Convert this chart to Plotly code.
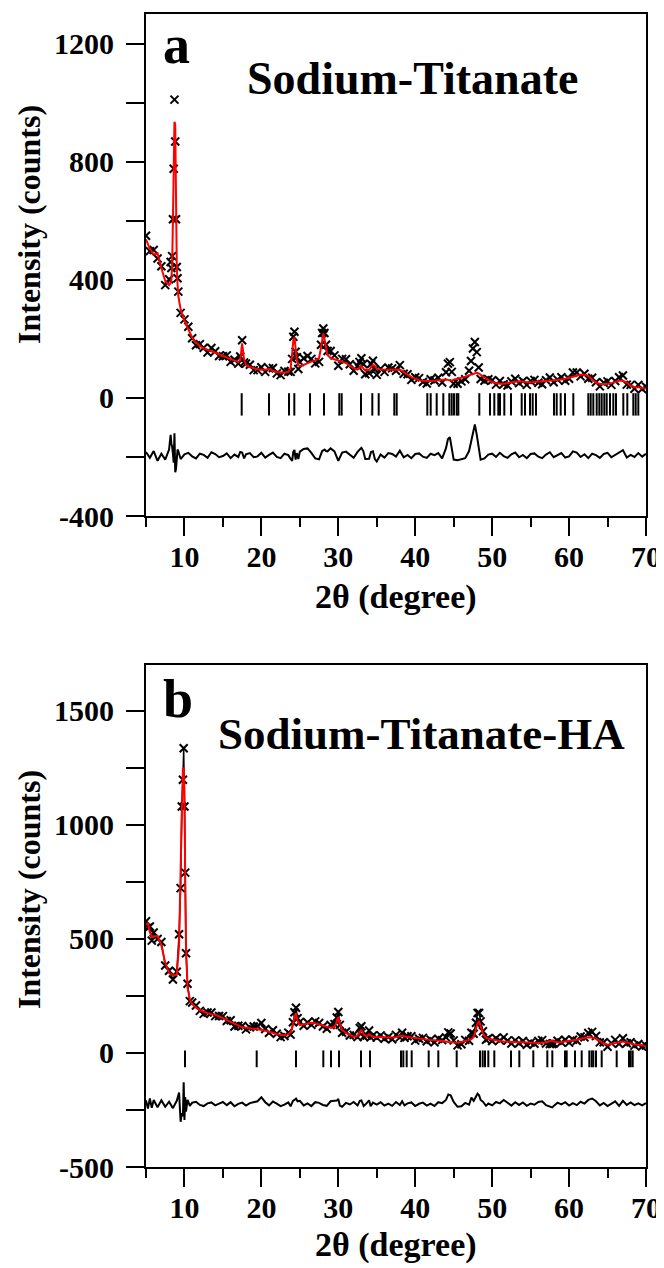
import plotly.graph_objects as go

# ---------------- Panel a : Sodium-Titanate ----------------
tt_a = [5.0, 5.5, 6.0, 6.5, 7.0, 7.5, 8.0, 8.2, 8.3, 8.4,
        8.5, 8.6, 8.7, 8.8, 8.9, 9.0, 9.1, 9.2, 9.5, 10.0,
        10.5, 11.0, 11.5, 12.0, 12.5, 13.0, 13.5, 14.0, 14.5, 15.0,
        15.5, 16.0, 16.5, 17.0, 17.25, 17.5, 17.75, 18.0, 18.5, 19.0,
        19.5, 20.0, 20.5, 21.0, 21.5, 22.0, 22.5, 23.0, 23.5, 23.8,
        24.0, 24.15, 24.3, 24.45, 24.6, 24.8, 25.0, 25.5, 26.0, 26.5,
        27.0, 27.5, 27.75, 27.9, 28.05, 28.2, 28.4, 28.6, 29.0, 29.5,
        30.0, 30.5, 31.0, 31.5, 32.0, 32.5, 32.75, 33.0, 33.25, 33.5,
        34.0, 34.25, 34.5, 34.75, 35.0, 35.5, 36.0, 36.5, 37.0, 37.5,
        38.0, 38.5, 39.0, 39.5, 40.0, 40.5, 41.0, 41.5, 42.0, 42.5,
        43.0, 43.5, 44.0, 44.25, 44.5, 44.75, 45.0, 45.5, 46.0, 46.5,
        47.0, 47.25, 47.5, 47.75, 48.0, 48.25, 48.5, 49.0, 49.5, 50.0,
        50.5, 51.0, 51.5, 52.0, 52.5, 53.0, 53.5, 54.0, 54.5, 55.0,
        55.5, 56.0, 56.5, 57.0, 57.5, 58.0, 58.5, 59.0, 59.5, 60.0,
        60.5, 61.0, 61.5, 62.0, 62.5, 63.0, 63.5, 64.0, 64.5, 65.0,
        65.5, 66.0, 66.5, 67.0, 67.5, 68.0, 68.5, 69.0, 69.5, 70.0]
calc_a = [537, 505, 486, 490, 440, 396, 382, 390, 400, 450,
          600, 800, 935, 925, 650, 450, 385, 345, 300, 262,
          232, 205, 188, 176, 168, 162, 158, 153, 148, 143,
          137, 131, 126, 121, 128, 185, 130, 112, 104, 100,
          97, 95, 95, 98, 91, 88, 86, 85, 88, 100,
          150, 195, 205, 170, 130, 110, 108, 112, 118, 123,
          127, 135, 170, 205, 218, 200, 165, 145, 135, 130,
          127, 122, 118, 110, 100, 96, 104, 108, 100, 92,
          95, 103, 112, 108, 98, 96, 95, 95, 95, 96,
          95, 88, 78, 70, 65, 60, 58, 57, 57, 58,
          60, 62, 62, 61, 59, 58, 62, 64, 68, 72,
          77, 80, 82, 84, 85, 83, 78, 68, 60, 54,
          50, 48, 48, 50, 52, 55, 56, 55, 53, 52,
          54, 55, 55, 57, 58, 59, 60, 62, 65, 68,
          72, 76, 78, 78, 74, 62, 52, 47, 46, 47,
          50, 54, 58, 58, 52, 42, 36, 36, 34, 32]
resid_a = [12, -8, 15, -18, 6, -14, 20, 70, 40, 30,
           5, -24, 75, -57, -45, -7, 20, 15, -12, 4,
           9, -3, -10, 6, 2, -8, 11, 5, -6, -2,
           7, -9, 3, -5, 12, 10, -10, 4, 8, -6,
           -3, 9, -7, 2, 10, -5, -9, 6, 1, -12,
           -18, 12, 19, -14, 8, -12, 13, 22, 24, 9,
           -10, -13, 10, 15, 17, 20, 15, 14, 24, 14,
           -18, 10, 13, 4, -8, 12, 18, 26, 15, -12,
           -11, 12, 14, -12, -20, 3, -7, 8, 5, -4,
           16, -6, 2, -9, 5, 7, -4, -8, 6, 1,
           8, -10, 25, 55, 62, 30, -14, -16, -12, -9,
           15, 45, 85, 105, 70, 20, -14, -10, 3, 6,
           -5, 9, -2, -8, 4, 10, -6, 2, -9, 5,
           7, -4, -9, 3, 11, -6, 2, 8, -7, -3,
           14, 10, -5, 4, -9, 6, 1, -8, 5, 9,
           -6, 3, 12, 18, -7, 2, -5, 8, -4, 6]
bragg_a = [17.44, 20.99, 23.59, 24.28, 26.32, 28.14, 30.13, 30.44, 32.95, 34.42,
           35.25, 37.28, 37.59, 41.57, 42.01, 42.79, 43.65, 44.43, 44.74, 45.04,
           45.39, 45.6, 48.33, 49.72, 50.28, 50.8, 51.02, 51.58, 52.45, 53.84,
           54.27, 54.92, 55.27, 55.7, 58.04, 58.39, 58.91, 59.47, 60.55, 62.5,
           62.81, 63.15, 63.59, 63.93, 64.24, 64.58, 64.89, 65.32, 65.75, 66.1,
           67.05, 67.57, 68.35, 68.66, 69.0]
DIFF_OFFSET_A = -195
BRAGG_LEVEL_A = -22

# ---------------- Panel b : Sodium-Titanate-HA ----------------
tt_b = [5.0, 5.25, 5.5, 5.75, 6.0, 6.5, 7.0, 7.5, 8.0, 8.5,
        9.0, 9.3, 9.5, 9.65, 9.8, 9.9, 10.0, 10.1, 10.2, 10.4,
        10.7, 11.0, 11.5, 12.0, 12.5, 13.0, 13.5, 14.0, 14.5, 15.0,
        15.5, 16.0, 16.5, 17.0, 17.5, 18.0, 18.5, 19.0, 19.5, 20.0,
        20.5, 21.0, 21.5, 22.0, 22.5, 23.0, 23.5, 23.8, 24.1, 24.3,
        24.5, 24.7, 25.0, 25.5, 26.0, 26.5, 27.0, 27.5, 28.0, 28.5,
        29.0, 29.5, 29.8, 30.0, 30.2, 30.5, 31.0, 31.5, 32.0, 32.5,
        32.8, 33.0, 33.3, 33.7, 34.0, 34.2, 34.5, 35.0, 35.5, 36.0,
        36.5, 37.0, 37.5, 38.0, 38.3, 38.6, 39.0, 39.5, 40.0, 40.5,
        41.0, 41.5, 42.0, 42.5, 43.0, 43.5, 44.0, 44.3, 44.6, 45.0,
        45.5, 46.0, 46.5, 47.0, 47.3, 47.6, 47.9, 48.1, 48.3, 48.5,
        48.8, 49.2, 49.5, 50.0, 50.5, 51.0, 51.5, 52.0, 52.5, 53.0,
        53.5, 54.0, 54.5, 55.0, 55.5, 56.0, 56.5, 57.0, 57.5, 57.8,
        58.0, 58.5, 59.0, 59.5, 60.0, 60.5, 61.0, 61.5, 62.0, 62.5,
        63.0, 63.5, 64.0, 64.5, 65.0, 65.5, 66.0, 66.5, 67.0, 67.5,
        68.0, 68.5, 69.0, 69.5, 70.0]
calc_b = [561, 569, 530, 508, 510, 513, 470, 395, 350, 340,
          342, 470, 800, 1120, 1250, 1240, 1150, 760, 470, 285,
          235, 215, 198, 188, 180, 174, 170, 167, 160, 152,
          145, 135, 126, 118, 112, 110, 108, 107, 106, 101,
          97, 94, 88, 82, 78, 77, 82, 90, 120, 160,
          174, 140, 122, 125, 130, 132, 130, 126, 120, 114,
          110, 112, 140, 157, 130, 100, 88, 78, 70, 75,
          95, 101, 80, 72, 82, 78, 70, 70, 69, 69,
          68, 68, 70, 72, 76, 72, 70, 66, 63, 61,
          60, 58, 56, 55, 54, 52, 50, 48, 47, 46,
          45, 48, 52, 56, 60, 70, 100, 130, 137, 120,
          85, 66, 62, 58, 55, 52, 50, 49, 48, 47,
          46, 45, 44, 43, 43, 43, 44, 46, 52, 54,
          50, 47, 48, 50, 52, 54, 58, 62, 66, 69,
          68, 62, 52, 42, 36, 40, 45, 48, 50, 46,
          40, 37, 36, 34, 28]
resid_b = [16, -20, 24, -16, 18, -14, 16, -12, 10, -18,
           14, 50, -78, -40, -53, 95, -70, 30, -33, 18,
           -8, 6, 10, -4, -9, 3, 7, -6, 2, 9,
           -5, 8, -10, 1, 6, -7, 4, 9, 12, 30,
           8, -6, 11, 2, -9, -3, 7, -10, 14, 18,
           24, 12, 14, -6, 3, -9, 8, 5, -4, -8,
           12, 14, 15, 22, -7, -12, 5, -2, 9, -6,
           14, 16, -9, 4, 16, -10, 6, -3, 8, -7,
           2, -8, 9, -4, 12, -6, 3, 7, -9, 1,
           6, -7, 2, -9, 8, 4, 18, 42, 38, 9,
           -12, -10, 5, -3, 28, 14, 32, 45, 38, 18,
           10, -8, 2, -6, 9, 3, 18, 5, -7, 8,
           -4, 7, -8, 2, -3, 9, 12, -5, -13, -15,
           -9, 6, -2, 8, -7, 4, -5, 10, 2, 18,
           24, 12, -6, 5, -9, 3, 12, -8, 14, -4,
           7, -5, 3, -6, 4]
bragg_b = [10.07, 19.39, 24.5, 28.05, 29.05, 30.09, 32.95, 34.12, 38.15, 38.45,
           38.89, 39.54, 41.75, 43.0, 45.39, 48.42, 48.77, 49.07, 49.5, 50.28,
           52.45, 53.53, 55.35, 57.17, 57.82, 59.47, 59.69, 60.77, 61.64, 62.63,
           62.94, 63.15, 63.5, 64.24, 66.19, 67.79, 68.01, 68.27]
DIFF_OFFSET_B = -224
BRAGG_LEVEL_B = -26

# derived series (observed = calculated + residual; difference curve is offset residual)
obs_a = [c + r for c, r in zip(calc_a, resid_a)]
diff_a = [r + DIFF_OFFSET_A for r in resid_a]
obs_b = [c + r for c, r in zip(calc_b, resid_b)]
diff_b = [r + DIFF_OFFSET_B for r in resid_b]

x_major = [10, 20, 30, 40, 50, 60, 70]
x_minor = [5, 15, 25, 35, 45, 55, 65]
y_ticks_a = [-400, -200, 0, 200, 400, 600, 800, 1000, 1200]
y_text_a = ["-400", "", "0", "", "400", "", "800", "", "1200"]
y_ticks_b = [-500, -250, 0, 250, 500, 750, 1000, 1250, 1500]
y_text_b = ["-500", "", "0", "", "500", "", "1000", "", "1500"]

FONT = "Liberation Serif, Times New Roman, DejaVu Serif, serif"

fig = go.Figure()

xmark = dict(symbol="x-thin", size=8, color="black", line=dict(width=2, color="black"))

# panel a traces
fig.add_trace(go.Scatter(x=tt_a, y=obs_a, mode="markers", marker=xmark,
                         xaxis="x", yaxis="y", showlegend=False))
fig.add_trace(go.Scatter(x=tt_a, y=calc_a, mode="lines", line=dict(color="red", width=2),
                         xaxis="x", yaxis="y", showlegend=False))
fig.add_trace(go.Scatter(x=bragg_a, y=[BRAGG_LEVEL_A] * len(bragg_a), mode="markers",
                         marker=dict(symbol="line-ns", size=16, color="black",
                                     line=dict(width=2, color="black")),
                         xaxis="x", yaxis="y", showlegend=False))
fig.add_trace(go.Scatter(x=tt_a, y=diff_a, mode="lines", line=dict(color="black", width=2),
                         xaxis="x", yaxis="y", showlegend=False))

# panel b traces
fig.add_trace(go.Scatter(x=tt_b, y=obs_b, mode="lines+markers", marker=xmark,
                         line=dict(color="black", width=1.5),
                         xaxis="x2", yaxis="y2", showlegend=False))
fig.add_trace(go.Scatter(x=tt_b, y=calc_b, mode="lines", line=dict(color="red", width=2),
                         xaxis="x2", yaxis="y2", showlegend=False))
fig.add_trace(go.Scatter(x=bragg_b, y=[BRAGG_LEVEL_B] * len(bragg_b), mode="markers",
                         marker=dict(symbol="line-ns", size=12, color="black",
                                     line=dict(width=2, color="black")),
                         xaxis="x2", yaxis="y2", showlegend=False))
fig.add_trace(go.Scatter(x=tt_b, y=diff_b, mode="lines", line=dict(color="black", width=2),
                         xaxis="x2", yaxis="y2", showlegend=False))

tickfont = dict(family=FONT, size=30, color="black", weight="bold")

def xaxis_style(anchor):
    return dict(range=[5, 70], anchor=anchor, automargin=False, showline=True,
                linecolor="black", linewidth=2, mirror=True, showgrid=False, zeroline=False,
                ticks="outside", tickvals=x_major, ticklen=18, tickwidth=2, tickcolor="black",
                minor=dict(tickvals=x_minor, ticks="outside", ticklen=9, tickwidth=2,
                           tickcolor="black", showgrid=False),
                tickfont=tickfont, ticklabelstandoff=-5)

def yaxis_style(anchor, rng, vals, texts, domain):
    return dict(range=rng, anchor=anchor, domain=domain, automargin=False, showline=True,
                linecolor="black", linewidth=2, mirror=True, showgrid=False, zeroline=False,
                ticks="outside", tickvals=vals, ticktext=texts, ticklen=18, tickwidth=2,
                tickcolor="black", tickfont=tickfont, ticklabelstandoff=6)

ann_font_big = dict(family=FONT, size=54, color="black", weight="bold")
ann_font = dict(family=FONT, size=46, color="black", weight="bold")
xtitle_font = dict(family=FONT, size=34, color="black", weight="bold")
ytitle_font = dict(family=FONT, size=32, color="black", weight="bold")

# the page body adds an 8 px offset; figure is sized so the plot lands where the reference has it
fig.update_layout(
    width=656, height=1260,
    margin=dict(l=138, r=18, t=6, b=101, autoexpand=False),
    paper_bgcolor="white", plot_bgcolor="white",
    xaxis=xaxis_style("y"),
    yaxis=yaxis_style("x", [-400, 1300], y_ticks_a, y_text_a, [0.5646, 1.0]),
    xaxis2=xaxis_style("y2"),
    yaxis2=yaxis_style("x2", [-500, 1700], y_ticks_b, y_text_b, [0.0, 0.4354]),
    annotations=[
        dict(text="a", xref="x domain", yref="y domain", x=0.06, y=0.939,
             xanchor="center", yanchor="middle", showarrow=False, font=ann_font_big),
        dict(text="Sodium-Titanate", xref="x domain", yref="y domain", x=0.532, y=0.8725,
             xanchor="center", yanchor="middle", showarrow=False, font=ann_font),
        dict(text="b", xref="x2 domain", yref="y2 domain", x=0.064, y=0.932,
             xanchor="center", yanchor="middle", showarrow=False, font=ann_font_big),
        dict(text="Sodium-Titanate-HA", xref="x2 domain", yref="y2 domain", x=0.55, y=0.8625,
             xanchor="center", yanchor="middle", showarrow=False,
             font=dict(family=FONT, size=45, color="black", weight="bold")),
        # axis titles
        dict(text="2θ (degree)", xref="paper", yref="paper", x=0.5, y=0.4944,
             xanchor="center", yanchor="middle", showarrow=False, font=xtitle_font),
        dict(text="2θ (degree)", xref="paper", yref="paper", x=0.5, y=-0.0677,
             xanchor="center", yanchor="middle", showarrow=False, font=xtitle_font),
        dict(text="Intensity (counts)", xref="paper", yref="paper", x=-0.234, y=0.817,
             xanchor="center", yanchor="middle", textangle=-90, showarrow=False,
             font=ytitle_font),
        dict(text="Intensity (counts)", xref="paper", yref="paper", x=-0.234, y=0.2402,
             xanchor="center", yanchor="middle", textangle=-90, showarrow=False,
             font=ytitle_font),
    ],
)

fig.write_html("out.html")
